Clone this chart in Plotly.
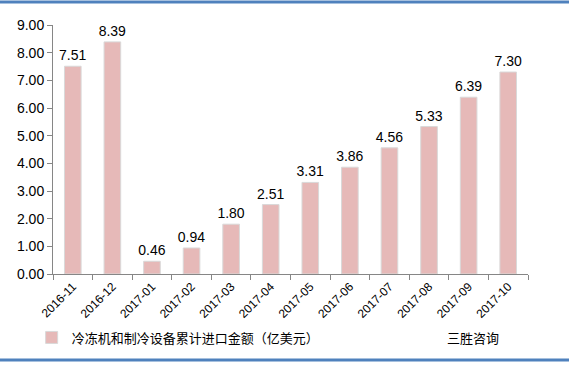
import plotly.graph_objects as go

categories = ["2016-11", "2016-12", "2017-01", "2017-02", "2017-03", "2017-04",
              "2017-05", "2017-06", "2017-07", "2017-08", "2017-09", "2017-10"]
values = [7.51, 8.39, 0.46, 0.94, 1.80, 2.51, 3.31, 3.86, 4.56, 5.33, 6.39, 7.30]
series_name = "冷冻机和制冷设备累计进口金额（亿美元）"
source_text = "三胜咨询"
y_ticks = [0, 1, 2, 3, 4, 5, 6, 7, 8, 9]

fig = go.Figure()
fig.add_trace(go.Bar(
    x=categories, y=values, name=series_name,
    marker=dict(color="#e6b9b8", line=dict(color="#d9d9d9", width=1)),
    width=0.42,
    text=[f"{v:.2f}" for v in values], textposition="outside",
    constraintext="none",
    textfont=dict(family="Liberation Sans, Arial", size=14, color="#000000"),
    cliponaxis=False,
))

fig.update_layout(
    width=569, height=366,
    margin=dict(l=53, r=41, t=25, b=92),
    paper_bgcolor="white", plot_bgcolor="white",
    showlegend=True,
    legend=dict(orientation="h", x=-0.045, xanchor="left", y=-0.255, yanchor="middle",
                font=dict(family="Noto Sans CJK SC", size=13, color="#000000"),
                bgcolor="rgba(0,0,0,0)"),
    xaxis=dict(type="category", showline=True, linecolor="#868686", linewidth=1,
               ticks="outside", tickson="boundaries", ticklen=5, tickcolor="#868686",
               tickangle=-45, tickfont=dict(family="Liberation Sans, Arial", size=12, color="#000000"),
               showgrid=False),
    yaxis=dict(range=[0, 9], tickvals=y_ticks, ticktext=[f"{t:.2f}" for t in y_ticks],
               showline=True, linecolor="#868686", linewidth=1,
               ticks="outside", ticklen=5, tickcolor="#868686",
               tickfont=dict(family="Liberation Sans, Arial", size=14, color="#000000"),
               showgrid=False, zeroline=False),
)

fig.add_annotation(text=source_text, xref="paper", yref="paper", x=0.884, y=-0.255,
                   xanchor="center", yanchor="middle", showarrow=False,
                   font=dict(family="Noto Sans CJK SC", size=13, color="#000000"))

# decorative blue borders at top and bottom
fig.add_shape(type="line", xref="paper", yref="paper", x0=-0.12, x1=1.1,
              y0=(366 - 2 - 92) / 249, y1=(366 - 2 - 92) / 249,
              line=dict(color="#4f81bd", width=3))
fig.add_shape(type="line", xref="paper", yref="paper", x0=-0.12, x1=1.1,
              y0=(366 - 360 - 92) / 249, y1=(366 - 360 - 92) / 249,
              line=dict(color="#4f81bd", width=3))

fig.write_html("out.html", config={"displayModeBar": False},
               post_script="document.body.style.margin='0';")
